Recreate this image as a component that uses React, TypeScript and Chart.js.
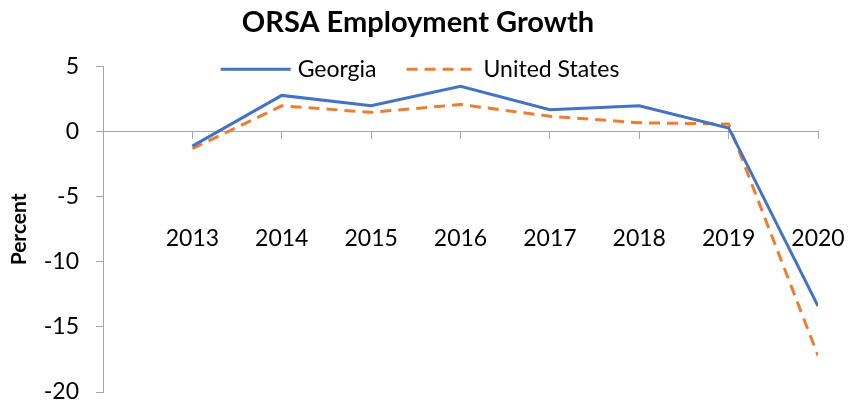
import React, { useEffect, useRef } from "react";
import { Chart, registerables } from "chart.js";

Chart.register(...registerables);

const years = [2013, 2014, 2015, 2016, 2017, 2018, 2019, 2020];
const georgia = [-1.1, 2.8, 2.0, 3.5, 1.7, 2.0, 0.3, -13.4];
const unitedStates = [-1.3, 2.0, 1.5, 2.1, 1.2, 0.7, 0.6, -17.2];
const yTicks = [-20, -15, -10, -5, 0, 5];

const FONT = "Lato, 'Open Sans', sans-serif";
const AXIS_GRAY = "#A6A6A6";

const legendPlugin = {
  id: "inlineLegend",
  afterDraw(chart: any) {
    const ctx = chart.ctx;
    ctx.save();
    ctx.font = `23px ${FONT}`;
    const sample = 70;
    const gapText = 7;
    const gapItem = 30;
    const items = chart.data.datasets.map((ds: any) => ({
      ds,
      w: ctx.measureText(ds.label).width,
    }));
    const total =
      items.reduce((s: number, it: any) => s + sample + gapText + it.w, 0) +
      gapItem * (items.length - 1);
    const center = (chart.titleBlock.left + chart.titleBlock.right) / 2 + 2;
    let x = center - total / 2;
    const y = chart.chartArea.top + 2.5;
    for (const it of items) {
      ctx.beginPath();
      ctx.strokeStyle = it.ds.borderColor;
      ctx.lineWidth = it.ds.borderWidth;
      ctx.lineCap = "butt";
      ctx.setLineDash(it.ds.borderDash || []);
      ctx.moveTo(x, y);
      ctx.lineTo(x + sample, y);
      ctx.stroke();
      ctx.setLineDash([]);
      ctx.fillStyle = "#000";
      ctx.textBaseline = "middle";
      ctx.textAlign = "left";
      ctx.fillText(it.ds.label, x + sample + gapText, y);
      x += sample + gapText + it.w + gapItem;
    }
    ctx.restore();
  },
};

export default function App() {
  const ref = useRef<HTMLCanvasElement | null>(null);
  useEffect(() => {
    if (!ref.current) return;
    const chart = new Chart(ref.current, {
      type: "line",
      data: {
        datasets: [
          {
            label: "Georgia",
            data: years.map((yr, i) => ({ x: yr, y: georgia[i] })),
            borderColor: "#4472C4",
            backgroundColor: "#4472C4",
            borderWidth: 3,
            pointRadius: 0,
            tension: 0,
          },
          {
            label: "United States",
            data: years.map((yr, i) => ({ x: yr, y: unitedStates[i] })),
            borderColor: "#ED7D31",
            backgroundColor: "#ED7D31",
            borderWidth: 3,
            borderDash: [11, 7],
            pointRadius: 0,
            tension: 0,
          },
        ],
      },
      options: {
        animation: false,
        responsive: true,
        maintainAspectRatio: false,
        layout: { padding: { left: 18, right: 45, top: 0, bottom: 10 } },
        plugins: {
          legend: { display: false },
          tooltip: { enabled: false },
          title: {
            display: true,
            text: "ORSA Employment Growth",
            color: "#000",
            font: { family: FONT, size: 29, weight: "bold", lineHeight: 1.2 },
            padding: { top: 5, bottom: 27 },
          },
        },
        scales: {
          x: {
            type: "linear",
            position: { y: 0 } as any,
            min: 2012,
            max: 2020,
            afterFit: (scale: any) => {
              scale.paddingLeft = 0;
              scale.paddingRight = 0;
            },
            ticks: {
              stepSize: 1,
              autoSkip: false,
              padding: 86,
              color: "#000",
              font: { family: FONT, size: 23, lineHeight: 1.2 },
              maxRotation: 0,
              callback: (v: any) => (v === 2012 ? "" : String(v)),
            },
            grid: {
              drawOnChartArea: false,
              drawTicks: true,
              tickLength: 7,
              color: AXIS_GRAY,
            },
            border: { display: true, color: AXIS_GRAY, width: 1 },
          },
          y: {
            type: "linear",
            min: -20,
            max: 5,
            afterBuildTicks: (scale: any) => {
              scale.ticks = yTicks.map((v) => ({ value: v }));
            },
            afterFit: (scale: any) => {
              scale.width = 85;
              scale.paddingTop = 0;
              scale.paddingBottom = 0;
            },
            ticks: {
              padding: 17,
              color: "#000",
              font: { family: FONT, size: 23, lineHeight: 0.8 },
            },
            grid: {
              drawOnChartArea: false,
              drawTicks: true,
              tickLength: 7,
              color: AXIS_GRAY,
            },
            border: { display: true, color: AXIS_GRAY, width: 1 },
            title: {
              display: true,
              text: "Percent",
              color: "#000",
              font: { family: FONT, size: 21, weight: "bold", lineHeight: 1.2 },
              padding: { top: -11, bottom: 0 },
            },
          },
        },
      },
      plugins: [legendPlugin],
    });
    return () => chart.destroy();
  }, []);
  return (
    <div style={{ position: "fixed", left: 0, top: 0, width: 863, height: 402 }}>
      <canvas ref={ref} />
    </div>
  );
}
